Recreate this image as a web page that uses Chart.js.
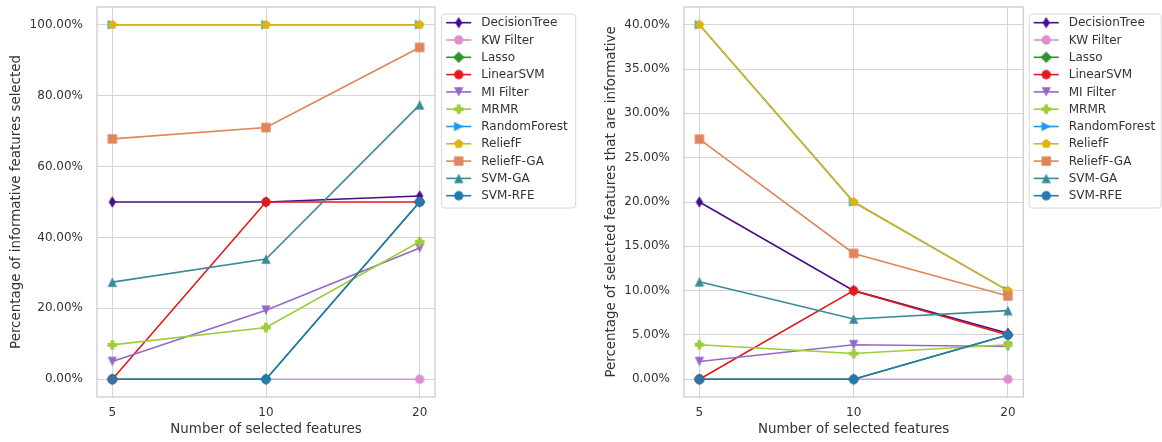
<!DOCTYPE html>
<html>
<head>
<meta charset="utf-8">
<script src="https://cdn.jsdelivr.net/npm/chart.js@4.4.1/dist/chart.umd.min.js"></script>
<style>
  html, body { margin: 0; padding: 0; background: #ffffff; }
  #wrap { position: relative; width: 1162px; height: 442px; overflow: hidden; }
  .panel { position: absolute; top: 0; height: 442px; }
</style>
</head>
<body>
<div id="wrap">
  <div class="panel" style="left:0;width:590px"><canvas id="selChart" width="590" height="442"></canvas></div>
  <div class="panel" style="left:590px;width:572px"><canvas id="infChart" width="572" height="442"></canvas></div>
</div>
<script>
// ---- data -------------------------------------------------------------
const categories = ['5', '10', '20'];
const methodNames = ['DecisionTree', 'KW Filter', 'Lasso', 'LinearSVM', 'MI Filter', 'MRMR',
                     'RandomForest', 'ReliefF', 'ReliefF-GA', 'SVM-GA', 'SVM-RFE'];

// share of the informative features that each method picked (%)
const selDecisionTree = [50, 50, 51.7];
const selKWFilter     = [0, 0, 0];
const selLasso        = [0, 0, 50];
const selLinearSVM    = [0, 50, 50];
const selMIFilter     = [5, 19.5, 37];
const selMRMR         = [9.7, 14.6, 38.8];
const selRandomForest = [100, 100, 100];
const selReliefF      = [100, 100, 100];
const selReliefFGA    = [67.8, 71, 93.6];
const selSVMGA        = [27.4, 33.9, 77.4];
const selSVMRFE       = [0, 0, 50];

// share of the picked features that are informative (%)
const infDecisionTree = [20, 10, 5.2];
const infKWFilter     = [0, 0, 0];
const infLasso        = [0, 0, 5];
const infLinearSVM    = [0, 10, 5];
const infMIFilter     = [2, 3.9, 3.7];
const infMRMR         = [3.9, 2.9, 3.9];
const infRandomForest = [40, 20, 10];
const infReliefF      = [40, 20, 10];
const infReliefFGA    = [27.1, 14.2, 9.4];
const infSVMGA        = [11, 6.8, 7.75];
const infSVMRFE       = [0, 0, 5];

const yTicksSel = [0, 20, 40, 60, 80, 100];
const yTicksInf = [0, 5, 10, 15, 20, 25, 30, 35, 40];

// ---- styling ----------------------------------------------------------
const lineColors = ['#4b0b8a', '#df8fcf', '#2f912f', '#e01b1b', '#9568c8', '#9ccd3a',
                    '#1a9ae8', '#dcb414', '#e0845a', '#3a8a98', '#2379b0'];
const markerShapes = ['thinDiamond', 'circle', 'diamond', 'circle', 'triDown', 'plus',
                      'triRight', 'pentagon', 'square', 'triUp', 'circle'];

const FONT = "'DejaVu Sans', 'Liberation Sans', sans-serif";
const TEXT = '#333333';
const GRID = '#d5d5d5';
const FRAME = '#cccccc';

// small bitmap markers (matplotlib-like shapes)
function makeMarker(shape, color) {
  const s = 16, c = document.createElement('canvas');
  c.width = s; c.height = s;
  const g = c.getContext('2d');
  g.fillStyle = color;
  g.translate(s / 2, s / 2);
  g.beginPath();
  const m = 9.4;            // nominal marker size, px
  const h = m / 2;
  const poly = pts => { g.moveTo(pts[0][0], pts[0][1]); pts.slice(1).forEach(p => g.lineTo(p[0], p[1])); g.closePath(); };
  switch (shape) {
    case 'circle': g.arc(0, 0, h, 0, Math.PI * 2); break;
    case 'square': poly([[-h, -h], [h, -h], [h, h], [-h, h]]); break;
    case 'diamond': { const d = 5.7; poly([[0, -d], [d, 0], [0, d], [-d, 0]]); break; }
    case 'thinDiamond': { const d = 5.7, w = 3.6; poly([[0, -d], [w, 0], [0, d], [-w, 0]]); break; }
    case 'triUp': poly([[0, -h], [h, h], [-h, h]]); break;
    case 'triDown': poly([[0, h], [h, -h], [-h, -h]]); break;
    case 'triRight': poly([[h, 0], [-h, -h], [-h, h]]); break;
    case 'pentagon': {
      const pts = [];
      for (let k = 0; k < 5; k++) { const a = -Math.PI / 2 + k * 2 * Math.PI / 5; pts.push([h * 1.05 * Math.cos(a), h * 1.05 * Math.sin(a)]); }
      poly(pts); break;
    }
    case 'plus': {
      const a = h, b = m / 5;
      poly([[-b, -a], [b, -a], [b, -b], [a, -b], [a, b], [b, b], [b, a], [-b, a], [-b, b], [-a, b], [-a, -b], [-b, -b]]);
      break;
    }
  }
  g.fill();
  return c;
}
const markerImages = markerShapes.map((s, i) => makeMarker(s, lineColors[i]));

// frame around the plotting area
const framePlugin = {
  id: 'frame',
  beforeDatasetsDraw(chart) {
    const { ctx, chartArea: a } = chart;
    ctx.save();
    ctx.strokeStyle = FRAME;
    ctx.lineWidth = 1.3;
    ctx.strokeRect(a.left, a.top, a.right - a.left, a.bottom - a.top);
    ctx.restore();
  }
};

// boxed legend to the right of the plotting area
const boxLegendPlugin = {
  id: 'boxLegend',
  afterDraw(chart, args, opts) {
    const { ctx, chartArea: a } = chart;
    const x0 = a.right + opts.gap, y0 = opts.top;
    const w = opts.width, hgt = opts.height, r = 3;
    ctx.save();
    ctx.beginPath();
    ctx.moveTo(x0 + r, y0);
    ctx.arcTo(x0 + w, y0, x0 + w, y0 + hgt, r);
    ctx.arcTo(x0 + w, y0 + hgt, x0, y0 + hgt, r);
    ctx.arcTo(x0, y0 + hgt, x0, y0, r);
    ctx.arcTo(x0, y0, x0 + w, y0, r);
    ctx.closePath();
    ctx.fillStyle = 'rgba(255,255,255,0.85)';
    ctx.fill();
    ctx.strokeStyle = '#d8d8d8';
    ctx.lineWidth = 1;
    ctx.stroke();
    ctx.font = opts.fontSize + 'px ' + FONT;
    ctx.textBaseline = 'middle';
    ctx.textAlign = 'left';
    chart.data.datasets.forEach((ds, i) => {
      const y = y0 + opts.firstRow + i * opts.rowH;
      ctx.strokeStyle = ds.borderColor;
      ctx.lineWidth = 1.6;
      ctx.beginPath();
      ctx.moveTo(x0 + 4.5, y);
      ctx.lineTo(x0 + 29.5, y);
      ctx.stroke();
      const img = ds.pointStyle;
      ctx.drawImage(img, x0 + 17 - img.width / 2, y - img.height / 2);
      ctx.fillStyle = TEXT;
      ctx.fillText(ds.label, x0 + 39.5, y + 0.5);
    });
    ctx.restore();
  }
};

function buildChart(canvasId, seriesList, yMin, yMax, yTicks, yTitle, geom) {
  const n = seriesList.length;
  const datasets = seriesList.map((vals, i) => ({
    label: methodNames[i],
    data: vals.map((v, k) => ({ x: k, y: v })),
    borderColor: lineColors[i],
    backgroundColor: lineColors[i],
    borderWidth: 1.6,
    pointStyle: markerImages[i],
    pointRadius: 5,
    tension: 0,
    order: n - i
  }));

  return new Chart(document.getElementById(canvasId), {
    type: 'line',
    data: { datasets },
    options: {
      responsive: false,
      devicePixelRatio: 1,
      animation: false,
      events: [],
      layout: { padding: { top: 7, right: geom.padRight, bottom: 0, left: 0 } },
      plugins: {
        legend: { display: false },
        tooltip: { enabled: false },
        boxLegend: { gap: geom.legendGap, top: 14, width: geom.legendWidth, height: 194,
                     firstRow: 8.7, rowH: 17.3, fontSize: 12 }
      },
      scales: {
        x: {
          type: 'linear',
          min: -0.1,
          max: 2.1,
          afterBuildTicks: s => { s.ticks = categories.map((c, k) => ({ value: k })); },
          afterFit: s => { s.height = 45; s.paddingLeft = 0; s.paddingRight = 0; s.paddingTop = 0; s.paddingBottom = 0; },
          grid: { color: GRID, lineWidth: 1, drawTicks: false },
          border: { display: false },
          ticks: {
            padding: 9,
            color: TEXT,
            font: { family: FONT, size: 12 },
            maxRotation: 0,
            callback: v => categories[v]
          },
          title: {
            display: true,
            text: 'Number of selected features',
            color: TEXT,
            font: { family: FONT, size: 13.4 },
            padding: { top: 0, bottom: 4 }
          }
        },
        y: {
          type: 'linear',
          min: yMin,
          max: yMax,
          afterBuildTicks: s => { s.ticks = yTicks.map(v => ({ value: v })); },
          afterFit: s => { s.width = geom.yAxisWidth; s.paddingTop = 0; s.paddingBottom = 0; s.paddingLeft = 0; s.paddingRight = 0; },
          grid: { color: GRID, lineWidth: 1, drawTicks: false },
          border: { display: false },
          ticks: {
            padding: 14,
            color: TEXT,
            font: { family: FONT, size: 12 },
            callback: v => v.toFixed(2) + '%'
          },
          title: {
            display: true,
            text: yTitle,
            color: TEXT,
            font: { family: FONT, size: 13.4 },
            padding: { top: geom.yTitlePad, bottom: 0 }
          }
        }
      }
    },
    plugins: [framePlugin, boxLegendPlugin]
  });
}

buildChart('selChart',
  [selDecisionTree, selKWFilter, selLasso, selLinearSVM, selMIFilter, selMRMR,
   selRandomForest, selReliefF, selReliefFGA, selSVMGA, selSVMRFE],
  -5, 105, yTicksSel, 'Percentage of informative features selected',
  { yAxisWidth: 97, padRight: 155, yTitlePad: 8.8, legendGap: 6.7, legendWidth: 134 });

buildChart('infChart',
  [infDecisionTree, infKWFilter, infLasso, infLinearSVM, infMIFilter, infMRMR,
   infRandomForest, infReliefF, infReliefFGA, infSVMGA, infSVMRFE],
  -2, 42, yTicksInf, 'Percentage of selected features that are informative',
  { yAxisWidth: 94, padRight: 138.7, yTitlePad: 13.5, legendGap: 5.9, legendWidth: 132 });
</script>
</body>
</html>
